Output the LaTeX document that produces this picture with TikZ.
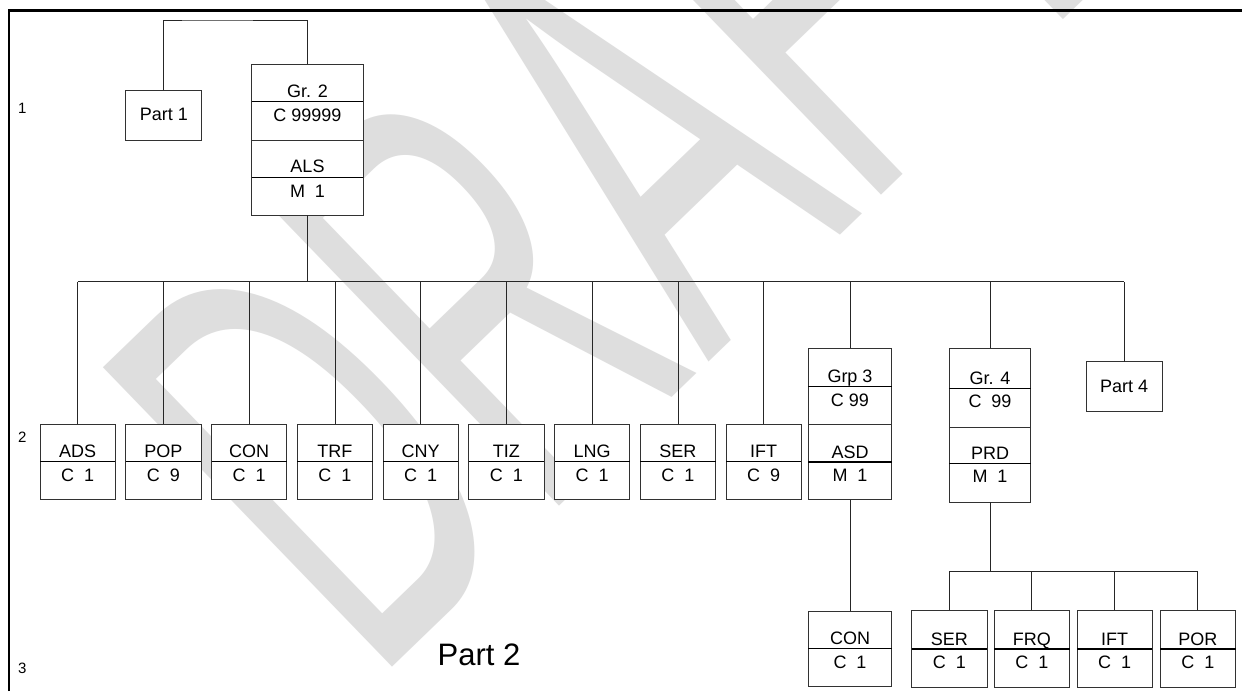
\documentclass[tikz,border=0pt]{standalone}
\usepackage{fontspec}
\setmainfont{Liberation Sans}
\definecolor{wm}{RGB}{222,222,222}
\definecolor{bc}{RGB}{50,50,50}
\begin{document}
\begin{tikzpicture}[x=1pt,y=-1pt,
  bx/.style={draw=bc,line width=0.9pt,fill=white,inner sep=0pt,outer sep=0pt,anchor=north},
  sbox/.style={bx,minimum width=75.4pt,minimum height=75.3pt},
  bbox/.style={bx,minimum width=75.4pt,minimum height=77.7pt},
  pbox/.style={bx,minimum width=75.8pt,minimum height=50pt},
  divl/.style={line width=1.2pt,black},
  conn/.style={line width=0.9pt,black!85},
  lbl/.style={font=\fontsize{18}{20}\selectfont,inner sep=0pt,anchor=base},
  lvl/.style={font=\fontsize{15}{18}\selectfont,inner sep=0pt,anchor=base west}]
\useasboundingbox (0,0) rectangle (1242,691);
\fill[white] (0,0) rectangle (1242,691);
% watermark
\begin{scope}
\clip (0,0) rectangle (1242,691);
\node[anchor=base west,inner sep=0pt,rotate=44,xscale=0.532,text=wm,font=\fontsize{605}{620}\selectfont] (wmk) at (373.7,685.7) {DRAFT};
\end{scope}
% frame
\draw[line width=2.7pt,line join=miter] (9,691) -- (9,10.3) -- (1242,10.3);
% level labels
\node[lvl] (l1) at (18,113.3) {1};
\node[lvl] (l2) at (18,442.3) {2};
\node[lvl] (l3) at (18,673.3) {3};
\node[font=\fontsize{31}{36}\selectfont,inner sep=0pt,anchor=base west] (part2) at (437.5,665) {Part 2};
% coordinates for buses
\coordinate (topc) at (200,20);
\coordinate (bus) at (0,281.7);
\coordinate (bus2) at (0,571.7);
% Part 1
\node[pbox] (p1) at (163.8,90) {};
\node[lbl] (p1t) at (163.8,120.9) {Part 1};
% Gr. 2
\node[bx,minimum width=111.6pt,minimum height=151pt] (gr2) at (307.5,64) {};
\draw[divl] (251.7,101.7) -- (363.3,101.7);
\draw[line width=0.9pt,bc] (251.7,140) -- (363.3,140);
\draw[divl] (251.7,177.7) -- (363.3,177.7);
\node[lbl] (gr2a) at (307.5,97.3) {Gr. 2};
\node[lbl] (gr2b) at (307.5,121.2) {C 99999};
\node[lbl] (gr2c) at (307.5,172.7) {ALS};
\node[lbl] (gr2d) at (307.5,197.2) {M~~1};
\draw[conn] (p1.north) |- (topc) -| (gr2.north);
% level 2 simple boxes
\foreach \n/\a/\b [count=\i from 0] in {ads/ADS/C~~1,pop/POP/C~~9,con/CON/C~~1,trf/TRF/C~~1,cny/CNY/C~~1,tiz/TIZ/C~~1,lng/LNG/C~~1,ser/SER/C~~1,ift/IFT/C~~9}{
  \pgfmathsetmacro{\cx}{77.7+85.75*\i}
  \node[sbox] (\n) at (\cx,424) {};
  \draw[divl] (\cx-37.7,461.7) -- (\cx+37.7,461.7);
  \node[lbl] (\n a) at (\cx,457.7) {\a};
  \node[lbl] (\n b) at (\cx,481.2) {\b};
  \draw[conn] (\n.north) -- (\n.north |- bus);
}
% Grp 3
\node[bx,minimum width=83.4pt,minimum height=151.4pt] (grp3) at (850,348.3) {};
\draw[divl] (808.3,386.7) -- (891.7,386.7);
\draw[line width=0.9pt,bc] (808.3,424.3) -- (891.7,424.3);
\draw[divl] (808.3,462) -- (891.7,462);
\node[lbl] (grp3a) at (850,382.7) {Grp 3};
\node[lbl] (grp3b) at (850,406.2) {C 99};
\node[lbl] (grp3c) at (850,458) {ASD};
\node[lbl] (grp3d) at (850,481.5) {M~~1};
% Gr. 4
\node[bx,minimum width=81.4pt,minimum height=154pt] (gr4) at (990,348.3) {};
\draw[divl] (949.3,388.3) -- (1030.7,388.3);
\draw[line width=0.9pt,bc] (949.3,427.3) -- (1030.7,427.3);
\draw[divl] (949.3,463.3) -- (1030.7,463.3);
\node[lbl] (gr4a) at (990,384.3) {Gr. 4};
\node[lbl] (gr4b) at (990,407.8) {C~~99};
\node[lbl] (gr4c) at (990,459.3) {PRD};
\node[lbl] (gr4d) at (990,482.8) {M~~1};
% Part 4
\node[pbox,minimum width=76pt] (p4) at (1124,361.7) {};
\node[lbl] (p4t) at (1124,392.6) {Part 4};
% main bus
\draw[conn] (gr2.south) -- (gr2.south |- bus);
\draw[conn] (ads.north |- bus) -- (p4.north |- bus);
\draw[conn] (grp3.north) -- (grp3.north |- bus);
\draw[conn] (gr4.north) -- (gr4.north |- bus);
\draw[conn] (p4.north) -- (p4.north |- bus);
% CON under Grp 3
\node[bx,minimum width=83.4pt,minimum height=75.7pt] (con3) at (850,611) {};
\draw[divl] (808.3,648.7) -- (891.7,648.7);
\node[lbl] (con3a) at (850,644.7) {CON};
\node[lbl] (con3b) at (850,668.2) {C~~1};
\draw[conn] (grp3.south) -- (con3.north);
% boxes under Gr. 4
\foreach \n/\a/\cx in {ser4/SER/949.3,frq/FRQ/1031.8,ift4/IFT/1114.7,por/POR/1197.8}{
  \node[bbox] (\n) at (\cx,610) {};
  \draw[divl] (\cx-37.7,649) -- (\cx+37.7,649);
  \node[lbl] (\n a) at (\cx,645) {\a};
  \node[lbl] (\n b) at (\cx,668.5) {C~~1};
  \draw[conn] (\n.north) -- (\n.north |- bus2);
}
\draw[conn] (gr4.south) -- (gr4.south |- bus2);
\draw[conn] (ser4.north |- bus2) -- (por.north |- bus2);
\end{tikzpicture}
\end{document}
